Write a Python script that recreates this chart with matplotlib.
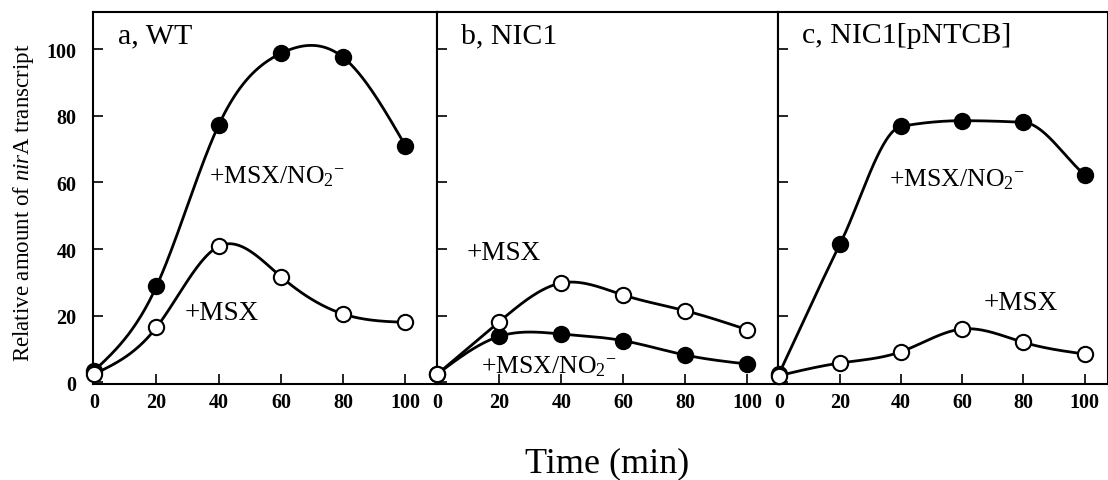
import numpy as np
import matplotlib
matplotlib.use("Agg")
import matplotlib.pyplot as plt

plt.rcParams['font.family'] = ['Liberation Serif', 'DejaVu Serif']
plt.rcParams['mathtext.fontset'] = 'custom'
plt.rcParams['mathtext.rm'] = 'Liberation Serif'
plt.rcParams['mathtext.it'] = 'Liberation Serif:italic'

time_min = [0, 20, 40, 60, 80, 100]

panel_titles = ["a, WT", "b, NIC1", "c, NIC1[pNTCB]"]

# +MSX/NO2- (filled circles)
msx_no2 = [
    [3.5, 28.8, 77.2, 98.7, 97.5, 71.0],
    [2.5, 13.8, 14.5, 12.5, 8.2, 5.5],
    [2.5, 41.5, 76.8, 78.5, 78.0, 62.3],
]
# +MSX (open circles)
msx = [
    [2.5, 16.5, 40.8, 31.7, 20.5, 18.0],
    [2.5, 18.2, 29.8, 26.2, 21.5, 15.8],
    [2.0, 5.8, 9.2, 16.0, 12.0, 8.5],
]

# how each drawn curve is smoothed
no2_fit = ['spline', 'spline', 'pchip']
msx_fit = ['spline', 'spline', 'spline']

# label anchors (x, y) in data units: (+MSX/NO2-, +MSX)
no2_label_pos = [(37, 62), (14, 5), (36, 61)]
msx_label_pos = [(29, 21), (9.5, 39), (67, 24)]

NO2_TEXT = r'+MSX/NO$_2$$^{-}$'


def smooth(x, y, kind='spline', n=300):
    x = np.asarray(x, float)
    y = np.asarray(y, float)
    xs = np.linspace(x[0], x[-1], n)
    h = np.diff(x)
    m = len(x)
    idx = np.clip(np.searchsorted(x, xs) - 1, 0, m - 2)
    if kind == 'pchip':
        # shape preserving cubic (Fritsch-Carlson), no overshoot
        d = np.diff(y) / h
        s = np.zeros(m)
        for i in range(1, m - 1):
            if d[i - 1] * d[i] > 0:
                s[i] = 2 / (1 / d[i - 1] + 1 / d[i])
        s[0], s[-1] = d[0], d[-1]
        t = (xs - x[idx]) / h[idx]
        h00 = 2 * t ** 3 - 3 * t ** 2 + 1
        h10 = t ** 3 - 2 * t ** 2 + t
        h01 = -2 * t ** 3 + 3 * t ** 2
        h11 = t ** 3 - t ** 2
        ys = (h00 * y[idx] + h10 * h[idx] * s[idx]
              + h01 * y[idx + 1] + h11 * h[idx] * s[idx + 1])
        return xs, ys
    # natural cubic spline through the points
    A = np.zeros((m, m))
    b = np.zeros(m)
    A[0, 0] = A[-1, -1] = 1
    for i in range(1, m - 1):
        A[i, i - 1] = h[i - 1]
        A[i, i] = 2 * (h[i - 1] + h[i])
        A[i, i + 1] = h[i]
        b[i] = 3 * ((y[i + 1] - y[i]) / h[i] - (y[i] - y[i - 1]) / h[i - 1])
    c = np.linalg.solve(A, b)
    bc = (y[1:] - y[:-1]) / h - h * (2 * c[:-1] + c[1:]) / 3
    dc = (c[1:] - c[:-1]) / (3 * h)
    dx = xs - x[idx]
    ys = y[idx] + bc[idx] * dx + c[idx] * dx ** 2 + dc[idx] * dx ** 3
    return xs, ys


fig = plt.figure(figsize=(11.08, 4.81), dpi=100)

W, H = 1108, 481
bottom = (H - 385) / H
height = (385 - 12.7) / H
lefts = [93.3, 436.5, 778.0]
widths = [343.2, 341.5, 329.5]
xmaxs = [110, 110, 107.5]

for k in range(3):
    ax = fig.add_axes([lefts[k] / W, bottom, widths[k] / W, height])
    xs, ys = smooth(time_min, msx_no2[k], no2_fit[k])
    ax.plot(xs, ys, color='black', lw=2.0, zorder=2)
    xs, ys = smooth(time_min, msx[k], msx_fit[k])
    ax.plot(xs, ys, color='black', lw=2.0, zorder=2)

    ax.plot(time_min, msx_no2[k], 'o', ms=11, mfc='black', mec='black',
            mew=1.5, zorder=3, clip_on=False)
    ax.plot(time_min, msx[k], 'o', ms=11, mfc='white', mec='black',
            mew=1.5, zorder=4, clip_on=False)

    ax.set_xlim(-0.3, xmaxs[k])
    ax.set_ylim(-0.5, 111.2)
    ax.set_xticks([0, 20, 40, 60, 80, 100])
    ax.set_yticks([0, 20, 40, 60, 80, 100])
    ax.tick_params(direction='in', length=7, width=1.2, labelsize=14.5)
    ax.tick_params(axis='x', pad=6)
    ax.tick_params(axis='y', pad=12)
    for lab in ax.get_xticklabels() + ax.get_yticklabels():
        lab.set_fontweight('bold')
    if k > 0:
        ax.tick_params(axis='y', labelleft=False)
    for sp in ax.spines.values():
        sp.set_linewidth(1.5)

    ax.text(7.5, 102, panel_titles[k], fontsize=21.5, va='baseline', ha='left')
    ax.text(no2_label_pos[k][0], no2_label_pos[k][1], NO2_TEXT, fontsize=18.5,
            va='center', ha='left', zorder=5)
    ax.text(msx_label_pos[k][0], msx_label_pos[k][1], '+MSX', fontsize=19.5,
            va='center', ha='left', zorder=5)

fig.text(24 / W, (H - 203) / H, r'Relative amount of $\mathit{nir}$A transcript',
         rotation=90, fontsize=16.5, ha='center', va='center')
fig.text(607 / W, (H - 464) / H, 'Time (min)', fontsize=26,
         ha='center', va='center')

fig.savefig('out.png', dpi=100)
